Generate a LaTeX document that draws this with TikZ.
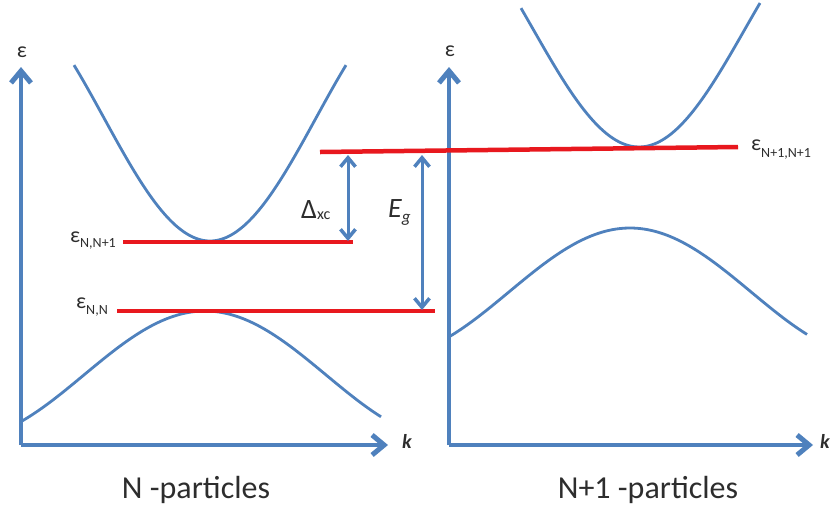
\documentclass[tikz,border=0pt]{standalone}
\usepackage{fontspec}
\setmainfont{Carlito}
\usetikzlibrary{arrows.meta}
\definecolor{bandblue}{RGB}{79,129,189}
\definecolor{levelred}{RGB}{232,24,30}
\definecolor{labelgray}{RGB}{45,45,45}
\newcommand{\epsfont}{\fontsize{22}{22}\selectfont}
\newcommand{\subfont}{\fontsize{14}{14}\selectfont}

\begin{document}
\begin{tikzpicture}[x=1pt,y=-1pt,
  axis/.style={draw=bandblue,line width=4pt,-{Straight Barb[length=12pt,width=20pt,line width=5pt]}},
  band/.style={draw=bandblue,line width=2.8pt},
  level/.style={draw=levelred,line width=4.5pt},
  gap/.style={draw=bandblue,line width=3pt,{Straight Barb[length=9pt,width=15pt,line width=3.5pt]}-{Straight Barb[length=9pt,width=15pt,line width=3.5pt]}},
  lbl/.style={text=labelgray,inner sep=0pt}]
  \useasboundingbox (0,0) rectangle (834,507);

  \coordinate (O1) at (21,445);
  \coordinate (Y1) at (21,67);
  \coordinate (X1) at (388,445);
  \coordinate (O2) at (449,445);
  \coordinate (Y2) at (449,67);
  \coordinate (X2) at (813,445);

  \coordinate (L1a) at (320,152);
  \coordinate (L1b) at (738,147);
  \coordinate (L2a) at (123,242);
  \coordinate (L2b) at (353,242);
  \coordinate (L3a) at (117,311);
  \coordinate (L3b) at (435,311);

  \coordinate (D1) at (348,155);
  \coordinate (D2) at (348,241);
  \coordinate (G1) at (422,155);
  \coordinate (G2) at (422,310);

  % axes
  \draw[axis] (O1) -- (Y1);
  \draw[axis] (O1) -- (X1);
  \draw[axis] (O2) -- (Y2);
  \draw[axis] (O2) -- (X2);

  % bands, N particles
  \draw[band] plot[domain=-136:136,samples=60,smooth] ({210+\x},{241-123*(1-cos(0.849*\x))});
  \draw[band] plot[domain=-184:176,samples=60,smooth] ({205+\x},{311+64*(1-cos(0.743*\x))});

  % bands, N+1 particles
  \draw[band] plot[domain=-118:121,samples=60,smooth] ({639+\x},{147-118*(1-cos(0.849*\x))});
  \draw[band] plot[domain=-181:177,samples=60,smooth] ({630+\x},{228+64*(1-cos(0.743*\x))});

  % levels
  \draw[level] (L1a) -- (L1b);
  \draw[level] (L2a) -- (L2b);
  \draw[level] (L3a) -- (L3b);

  % gaps
  \draw[gap] (D1) -- (D2);
  \draw[gap] (G1) -- (G2);

  % labels
  \node[lbl,anchor=base] (epsL) at (22,57) {\fontsize{22}{22}\selectfont ε};
  \node[lbl,anchor=base] (epsR) at (450,56) {\fontsize{22}{22}\selectfont ε};
  \node[lbl,anchor=base west] (kL) at (402,448) {\fontsize{20}{20}\selectfont\bfseries\itshape k};
  \node[lbl,anchor=base west] (kR) at (820,448) {\fontsize{20}{20}\selectfont\bfseries\itshape k};
  \node[lbl,anchor=base east] (eNN1) at (116,242) {\epsfont ε\raisebox{-5pt}{\subfont N,N+1}};
  \node[lbl,anchor=base east] (eNN) at (108,308) {\epsfont ε\raisebox{-6pt}{\subfont N,N}};
  \node[lbl,anchor=base west] (eN1N1) at (751,150) {\epsfont ε\raisebox{-7pt}{\subfont N+1,N+1}};
  \node[lbl,anchor=base west] (dxc) at (301,218) {\fontsize{28}{28}\selectfont Δ\raisebox{-1pt}{\fontsize{16}{16}\selectfont xc}};
  \node[lbl,anchor=base west] (eg) at (388,217) {\fontsize{28}{28}\selectfont\itshape E\raisebox{-5pt}{\fontsize{17}{17}\selectfont g}};
  \node[lbl,anchor=base] (capL) at (196,498) {\fontsize{32}{32}\selectfont N -particles};
  \node[lbl,anchor=base] (capR) at (648,498) {\fontsize{32}{32}\selectfont N+1 -particles};
\end{tikzpicture}
\end{document}
